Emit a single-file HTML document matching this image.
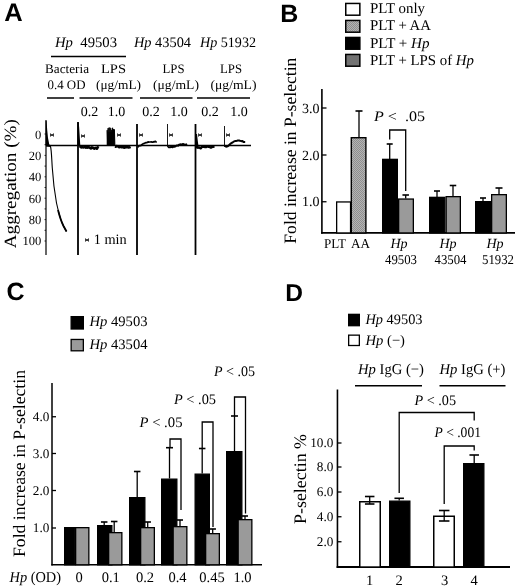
<!DOCTYPE html>
<html lang="en">
<head>
<meta charset="utf-8">
<title>Figure</title>
<style>
html,body{margin:0;padding:0;background:#fff;}
body{width:520px;height:588px;overflow:hidden;}
svg{display:block;will-change:transform;filter:grayscale(1);}
svg text{font-family:"Liberation Serif","Times New Roman",Times,serif;fill:#000;text-rendering:geometricPrecision;}
svg text.pl{font-family:"Liberation Sans",Arial,Helvetica,sans-serif;font-weight:bold;}
</style>
</head>
<body>
<svg width="520" height="588" viewBox="0 0 520 588">
<defs><pattern id="stip" width="2" height="2" patternUnits="userSpaceOnUse"><rect width="2" height="2" fill="#b4b4b4"/><rect width="1" height="1" fill="#8e8e8e"/><rect x="1" y="1" width="1" height="1" fill="#8e8e8e"/></pattern></defs>
<rect x="0" y="0" width="520" height="588" fill="#fff"/>
<text class="pl" x="4.2" y="20.8" font-size="25.5">A</text>
<text x="55" y="47" font-size="14.5" text-anchor="start" textLength="62" lengthAdjust="spacingAndGlyphs"><tspan font-style="italic">Hp</tspan>&#160;&#160;49503</text>
<text x="134" y="47" font-size="14.5" text-anchor="start" textLength="57" lengthAdjust="spacingAndGlyphs"><tspan font-style="italic">Hp</tspan> 43504</text>
<text x="200" y="47" font-size="14.5" text-anchor="start" textLength="56" lengthAdjust="spacingAndGlyphs"><tspan font-style="italic">Hp</tspan> 51932</text>
<line x1="51" y1="56.5" x2="126" y2="56.5" stroke="#000" stroke-width="1.5"/>
<text x="67" y="73" font-size="13" text-anchor="middle" textLength="44" lengthAdjust="spacingAndGlyphs">Bacteria</text>
<text x="66.5" y="89" font-size="13" text-anchor="middle" textLength="38" lengthAdjust="spacingAndGlyphs">0.4 OD</text>
<text x="113.5" y="73" font-size="13" text-anchor="middle" textLength="25" lengthAdjust="spacingAndGlyphs">LPS</text>
<text x="118.5" y="89" font-size="13" text-anchor="middle" textLength="45" lengthAdjust="spacingAndGlyphs">(&#956;g/mL)</text>
<text x="173.5" y="73" font-size="13" text-anchor="middle" textLength="22" lengthAdjust="spacingAndGlyphs">LPS</text>
<text x="176" y="89" font-size="13" text-anchor="middle" textLength="46" lengthAdjust="spacingAndGlyphs">(&#956;g/mL)</text>
<text x="231" y="73" font-size="13" text-anchor="middle" textLength="22" lengthAdjust="spacingAndGlyphs">LPS</text>
<text x="233.5" y="89" font-size="13" text-anchor="middle" textLength="46" lengthAdjust="spacingAndGlyphs">(&#956;g/mL)</text>
<line x1="47" y1="98" x2="74" y2="98" stroke="#000" stroke-width="1.5"/>
<line x1="79.5" y1="98" x2="132.5" y2="98" stroke="#000" stroke-width="1.5"/>
<line x1="140" y1="98" x2="192.5" y2="98" stroke="#000" stroke-width="1.5"/>
<line x1="197" y1="98" x2="250" y2="98" stroke="#000" stroke-width="1.5"/>
<text x="89.5" y="116" font-size="14" text-anchor="middle">0.2</text>
<text x="116.5" y="116" font-size="14" text-anchor="middle">1.0</text>
<text x="151" y="116" font-size="14" text-anchor="middle">0.2</text>
<text x="179" y="116" font-size="14" text-anchor="middle">1.0</text>
<text x="210" y="116" font-size="14" text-anchor="middle">0.2</text>
<text x="239" y="116" font-size="14" text-anchor="middle">1.0</text>
<line x1="46" y1="120" x2="46" y2="255" stroke="#000" stroke-width="1.2"/>
<line x1="44.5" y1="134.0" x2="46" y2="134.0" stroke="#000" stroke-width="0.8"/>
<line x1="44.5" y1="144.7" x2="46" y2="144.7" stroke="#000" stroke-width="0.8"/>
<line x1="44.5" y1="155.4" x2="46" y2="155.4" stroke="#000" stroke-width="0.8"/>
<line x1="44.5" y1="166.1" x2="46" y2="166.1" stroke="#000" stroke-width="0.8"/>
<line x1="44.5" y1="176.8" x2="46" y2="176.8" stroke="#000" stroke-width="0.8"/>
<line x1="44.5" y1="187.5" x2="46" y2="187.5" stroke="#000" stroke-width="0.8"/>
<line x1="44.5" y1="198.2" x2="46" y2="198.2" stroke="#000" stroke-width="0.8"/>
<line x1="44.5" y1="208.89999999999998" x2="46" y2="208.89999999999998" stroke="#000" stroke-width="0.8"/>
<line x1="44.5" y1="219.6" x2="46" y2="219.6" stroke="#000" stroke-width="0.8"/>
<line x1="44.5" y1="230.3" x2="46" y2="230.3" stroke="#000" stroke-width="0.8"/>
<line x1="44.5" y1="241.0" x2="46" y2="241.0" stroke="#000" stroke-width="0.8"/>
<line x1="46" y1="145.5" x2="251" y2="145.5" stroke="#000" stroke-width="1.6"/>
<line x1="78" y1="122" x2="78" y2="255" stroke="#000" stroke-width="1.8"/>
<line x1="137" y1="124" x2="137" y2="255" stroke="#000" stroke-width="1.8"/>
<line x1="195.5" y1="124" x2="195.5" y2="255" stroke="#000" stroke-width="1.8"/>
<line x1="167.5" y1="124" x2="167.5" y2="147" stroke="#000" stroke-width="0.9"/>
<line x1="224.5" y1="126" x2="224.5" y2="147" stroke="#000" stroke-width="0.9"/>
<text x="41.3" y="139" font-size="12.6" text-anchor="end">0</text>
<text x="41.3" y="160" font-size="12.6" text-anchor="end">20</text>
<text x="41.3" y="181" font-size="12.6" text-anchor="end">40</text>
<text x="41.3" y="202.5" font-size="12.6" text-anchor="end">60</text>
<text x="41.3" y="224" font-size="12.6" text-anchor="end">80</text>
<text x="41.3" y="245" font-size="12.6" text-anchor="end">100</text>
<text transform="translate(15.5,183.7) rotate(-90)" font-size="17.2" text-anchor="middle" textLength="129" lengthAdjust="spacingAndGlyphs">Aggregation (%)</text>
<path d="M45.6,121 L46.6,121 L47.2,130 L48,138 L49.2,144 L50,145.5 L45.6,145.5 Z" fill="#000"/>
<path d="M46,146 L50.5,146.5 C51.5,150 51.6,158 52.3,168 C53.2,182 54.5,192 56.5,203 C58.5,212 60.5,220 63,225 C64.2,227.5 65.3,229.5 66.5,231.5" fill="none" stroke="#000" stroke-width="1.1"/>
<path d="M58,210 C59.5,216 61.5,222 63.5,226 L66.5,231.5" fill="none" stroke="#000" stroke-width="1.8"/>
<path d="M77.4,122.5 L78.8,122.5 L79.5,133 L80.3,145.5 L77.4,145.5 Z" fill="#000"/>
<path d="M79.2,146.8 L80.2,146.6 L81.1,147.4 L82.1,146.6 L83.0,147.4 L84.0,147.2 L84.9,146.9 L85.7,147.6 L86.6,147.0 L87.4,147.6 L88.3,147.2 L89.1,147.3 L90.0,147.8 L90.9,148.4 L91.7,147.4 L92.6,147.6 L93.4,148.2 L94.3,148.6 L95.2,148.1 L96.0,147.9 L96.9,148.7 L97.7,147.4 L98.6,148.1" fill="none" stroke="#000" stroke-width="2.6" stroke-linejoin="round"/>
<path d="M107.2,145.5 L107.2,130.2 L107.7,145.5 L108.1,128.2 L108.6,145.5 L109.0,127.7 L109.5,145.5 L109.9,127.6 L110.4,145.5 L110.8,128.3 L111.3,145.5 L111.7,130.1 L112.2,145.5 L112.6,127.8 L113.1,145.5 L113.5,129.2 L114.0,145.5 L114.4,129.4 L114.9,145.5 " fill="none" stroke="#000" stroke-width="0.95"/>
<rect x="107.4" y="132" width="7.4" height="13.5" fill="#000" opacity="0.7"/>
<path d="M115.0,146.4 L115.8,146.7 L116.7,146.1 L117.5,146.2 L118.3,146.5 L119.2,147.2 L120.0,146.9 L120.8,146.8 L121.7,147.2 L122.5,147.0 L123.3,146.9 L124.2,147.6 L125.0,147.5 L125.9,146.8 L126.9,147.2 L127.8,147.1 L128.7,147.5 L129.7,147.3 L130.6,146.9" fill="none" stroke="#000" stroke-width="2.6" stroke-linejoin="round"/>
<path d="M137.5,146.4 L138.3,146.8 L139.2,145.7 L140.0,145.7 L140.8,145.6 L141.7,144.6 L142.5,144.4 L143.3,143.5 L144.2,143.5 L145.0,143.0 L146.0,142.6 L147.0,142.6 L148.0,141.8 L148.8,142.1 L149.6,142.0 L150.4,142.0 L151.2,141.8 L152.0,142.1 L152.8,142.2 L153.6,141.7 L154.4,141.9 L155.2,141.3 L156.0,141.9 L156.8,141.7" fill="none" stroke="#000" stroke-width="1.7" stroke-linejoin="round"/>
<path d="M168.0,146.7 L169.0,147.3 L170.0,147.3 L171.0,147.0 L171.8,147.0 L172.6,147.2 L173.4,146.5 L174.2,146.8 L175.0,146.5 L176.0,146.0 L177.0,145.4 L178.0,145.7 L179.0,144.7 L180.0,144.5 L181.0,144.3 L181.9,144.8 L182.8,144.0 L183.7,144.3 L184.5,144.4 L185.4,144.7 L186.3,144.6 L187.2,144.3" fill="none" stroke="#000" stroke-width="2.0" stroke-linejoin="round"/>
<path d="M195.6,134 L197,134 L197.8,141 L198.8,148.5 L195.6,148.5 Z" fill="#000"/>
<path d="M197.0,148.3 L197.8,147.4 L198.6,147.6 L199.4,147.5 L200.2,148.2 L201.0,148.2 L201.8,147.0 L202.7,146.9 L203.5,146.9 L204.3,146.8 L205.2,147.1 L206.0,147.1 L206.8,146.7 L207.6,146.3 L208.4,146.9 L209.2,146.9 L210.0,147.2 L210.9,147.6 L211.8,147.1 L212.7,146.7 L213.6,146.7 L214.5,146.4" fill="none" stroke="#000" stroke-width="2.4" stroke-linejoin="round"/>
<path d="M225.0,147.0 L225.8,146.1 L226.7,146.7 L227.5,146.3 L228.3,145.8 L229.2,145.1 L230.0,144.1 L230.8,143.6 L231.7,142.7 L232.5,142.7 L233.3,141.8 L234.2,141.4 L235.0,141.1 L236.0,140.9 L237.0,140.8 L238.0,140.4 L239.0,140.5 L240.0,140.8 L241.0,140.9 L241.8,141.3 L242.7,141.1 L243.5,142.1 L244.4,142.0 L245.2,142.0" fill="none" stroke="#000" stroke-width="2.0" stroke-linejoin="round"/>
<path d="M50.5,133.6 L53.5,136.4 L53.5,133.6 L50.5,136.4 Z" fill="#000" stroke="#000" stroke-width="0.5"/>
<path d="M81.5,134.6 L84.5,137.4 L84.5,134.6 L81.5,137.4 Z" fill="#000" stroke="#000" stroke-width="0.5"/>
<path d="M117.5,133.6 L120.5,136.4 L120.5,133.6 L117.5,136.4 Z" fill="#000" stroke="#000" stroke-width="0.5"/>
<path d="M139.5,133.6 L142.5,136.4 L142.5,133.6 L139.5,136.4 Z" fill="#000" stroke="#000" stroke-width="0.5"/>
<path d="M169.5,133.6 L172.5,136.4 L172.5,133.6 L169.5,136.4 Z" fill="#000" stroke="#000" stroke-width="0.5"/>
<path d="M198.5,133.6 L201.5,136.4 L201.5,133.6 L198.5,136.4 Z" fill="#000" stroke="#000" stroke-width="0.5"/>
<path d="M226.5,133.6 L229.5,136.4 L229.5,133.6 L226.5,136.4 Z" fill="#000" stroke="#000" stroke-width="0.5"/>
<path d="M85.5,238.6 L88.5,241.4 L88.5,238.6 L85.5,241.4 Z" fill="#000" stroke="#000" stroke-width="0.5"/>
<text x="93.7" y="244.2" font-size="14.5" text-anchor="start" textLength="33" lengthAdjust="spacingAndGlyphs">1 min</text>
<text class="pl" x="280.2" y="21.6" font-size="25">B</text>
<rect x="345.75" y="3.45" width="14.100000000000023" height="11.75" fill="#fff" stroke="#000" stroke-width="1.5"/>
<rect x="345.75" y="20.45" width="14.100000000000023" height="11.750000000000004" fill="url(#stip)" stroke="#000" stroke-width="1.5"/>
<rect x="345.75" y="37.45" width="14.100000000000023" height="11.75" fill="#000" stroke="#000" stroke-width="1.5"/>
<rect x="345.75" y="54.45" width="14.100000000000023" height="11.75" fill="#727272" stroke="#000" stroke-width="1.5"/>
<text x="370" y="12.5" font-size="14.8" text-anchor="start" textLength="55" lengthAdjust="spacingAndGlyphs">PLT only</text>
<text x="370" y="30" font-size="14.8" text-anchor="start" textLength="61" lengthAdjust="spacingAndGlyphs">PLT + AA</text>
<text x="370" y="47.5" font-size="14.8" textLength="59.5" lengthAdjust="spacingAndGlyphs">PLT + <tspan font-style="italic">Hp</tspan></text>
<text x="370" y="65" font-size="14.8" textLength="104" lengthAdjust="spacingAndGlyphs">PLT + LPS of <tspan font-style="italic">Hp</tspan></text>
<line x1="321.9" y1="89" x2="321.9" y2="233.8" stroke="#000" stroke-width="1.6"/>
<line x1="321.1" y1="232.95" x2="515" y2="232.95" stroke="#000" stroke-width="1.8"/>
<line x1="322" y1="108" x2="326.5" y2="108" stroke="#000" stroke-width="1.3"/>
<text x="319.5" y="112.6" font-size="14" text-anchor="end">3.0</text>
<line x1="322" y1="155" x2="326.5" y2="155" stroke="#000" stroke-width="1.3"/>
<text x="319.5" y="159.6" font-size="14" text-anchor="end">2.0</text>
<line x1="322" y1="201.75" x2="326.5" y2="201.75" stroke="#000" stroke-width="1.3"/>
<text x="319.5" y="206.35" font-size="14" text-anchor="end">1.0</text>
<text transform="translate(296,150.7) rotate(-90)" font-size="17.4" text-anchor="middle" textLength="186" lengthAdjust="spacingAndGlyphs">Fold increase in P-selectin</text>
<rect x="336.65" y="201.95000000000002" width="13.899999999999988" height="30.99999999999998" fill="#fff" stroke="#000" stroke-width="1.3"/>
<rect x="351.3" y="137.7" width="14.6" height="95.24999999999999" fill="url(#stip)" stroke="#000" stroke-width="1.4"/>
<line x1="359" y1="111" x2="359" y2="137" stroke="#000" stroke-width="1.3"/>
<line x1="355.5" y1="111" x2="362.5" y2="111" stroke="#000" stroke-width="1.6"/>
<rect x="382.65" y="159.35" width="14.7" height="73.6" fill="#000" stroke="#000" stroke-width="1.3"/>
<line x1="389.7" y1="144" x2="389.7" y2="159" stroke="#000" stroke-width="1.3"/>
<line x1="386.7" y1="144" x2="392.7" y2="144" stroke="#000" stroke-width="1.6"/>
<rect x="398.65" y="199.05" width="14.7" height="33.899999999999984" fill="#9a9a9a" stroke="#000" stroke-width="1.3"/>
<line x1="405.7" y1="195" x2="405.7" y2="198.4" stroke="#000" stroke-width="1.3"/>
<line x1="402.45" y1="195" x2="408.95" y2="195" stroke="#000" stroke-width="1.6"/>
<polyline points="389.7,139.5 389.7,130 405.7,130 405.7,191" fill="none" stroke="#000" stroke-width="1.3"/>
<text x="374" y="120.5" font-size="14.5" xml:space="preserve" textLength="51" lengthAdjust="spacingAndGlyphs"><tspan font-style="italic">P</tspan> &lt;  .05</text>
<rect x="429.65" y="197.35" width="15.2" height="35.6" fill="#000" stroke="#000" stroke-width="1.3"/>
<line x1="437" y1="191" x2="437" y2="197" stroke="#000" stroke-width="1.3"/>
<line x1="434.0" y1="191" x2="440.0" y2="191" stroke="#000" stroke-width="1.6"/>
<rect x="446.15" y="196.65" width="14.2" height="36.29999999999999" fill="#9a9a9a" stroke="#000" stroke-width="1.3"/>
<line x1="453" y1="185.5" x2="453" y2="196" stroke="#000" stroke-width="1.3"/>
<line x1="449.75" y1="185.5" x2="456.25" y2="185.5" stroke="#000" stroke-width="1.6"/>
<rect x="475.65" y="201.65" width="14.7" height="31.29999999999999" fill="#000" stroke="#000" stroke-width="1.3"/>
<line x1="483" y1="198" x2="483" y2="201" stroke="#000" stroke-width="1.3"/>
<line x1="480.0" y1="198" x2="486.0" y2="198" stroke="#000" stroke-width="1.6"/>
<rect x="491.65" y="194.65" width="14.7" height="38.29999999999999" fill="#9a9a9a" stroke="#000" stroke-width="1.3"/>
<line x1="499" y1="188" x2="499" y2="194" stroke="#000" stroke-width="1.3"/>
<line x1="495.5" y1="188" x2="502.5" y2="188" stroke="#000" stroke-width="1.6"/>
<text x="335" y="247.5" font-size="13.5" text-anchor="middle" textLength="22" lengthAdjust="spacingAndGlyphs">PLT</text>
<text x="360.5" y="247.5" font-size="13.5" text-anchor="middle" textLength="19" lengthAdjust="spacingAndGlyphs">AA</text>
<text x="399" y="247.5" font-size="14" text-anchor="middle" font-style="italic">Hp</text>
<text x="401" y="264" font-size="13.5" text-anchor="middle" textLength="32" lengthAdjust="spacingAndGlyphs">49503</text>
<text x="448" y="247.5" font-size="14" text-anchor="middle" font-style="italic">Hp</text>
<text x="450.5" y="264" font-size="13.5" text-anchor="middle" textLength="32" lengthAdjust="spacingAndGlyphs">43504</text>
<text x="495" y="247.5" font-size="14" text-anchor="middle" font-style="italic">Hp</text>
<text x="498" y="264" font-size="13.5" text-anchor="middle" textLength="32" lengthAdjust="spacingAndGlyphs">51932</text>
<text class="pl" x="6.5" y="300" font-size="25">C</text>
<rect x="71.15" y="316.65" width="12.2" height="12.35" fill="#000" stroke="#000" stroke-width="1.3"/>
<rect x="71.15" y="339.45" width="12.2" height="11.35" fill="#9a9a9a" stroke="#000" stroke-width="1.3"/>
<text x="89.5" y="326" font-size="14.5" text-anchor="start" textLength="58" lengthAdjust="spacingAndGlyphs"><tspan font-style="italic">Hp</tspan> 49503</text>
<text x="89.5" y="349" font-size="14.5" text-anchor="start" textLength="58" lengthAdjust="spacingAndGlyphs"><tspan font-style="italic">Hp</tspan> 43504</text>
<line x1="52" y1="383" x2="52" y2="565.5" stroke="#000" stroke-width="1.5"/>
<line x1="51.3" y1="564.8" x2="262" y2="564.8" stroke="#000" stroke-width="1.6"/>
<line x1="52" y1="416.75" x2="56" y2="416.75" stroke="#000" stroke-width="1.3"/>
<text x="49.3" y="421.15" font-size="13.2" text-anchor="end">4.0</text>
<line x1="52" y1="453.5" x2="56" y2="453.5" stroke="#000" stroke-width="1.3"/>
<text x="49.3" y="457.9" font-size="13.2" text-anchor="end">3.0</text>
<line x1="52" y1="490.5" x2="56" y2="490.5" stroke="#000" stroke-width="1.3"/>
<text x="49.3" y="494.9" font-size="13.2" text-anchor="end">2.0</text>
<line x1="52" y1="528" x2="56" y2="528" stroke="#000" stroke-width="1.3"/>
<text x="49.3" y="532.4" font-size="13.2" text-anchor="end">1.0</text>
<text transform="translate(24.7,463.5) rotate(-90)" font-size="17.4" text-anchor="middle" textLength="187" lengthAdjust="spacingAndGlyphs">Fold increase in P-selectin</text>
<rect x="64.65" y="527.65" width="10.2" height="37.149999999999956" fill="#000" stroke="#000" stroke-width="1.3"/>
<rect x="75.65" y="527.65" width="13.2" height="37.149999999999956" fill="#9a9a9a" stroke="#000" stroke-width="1.3"/>
<rect x="97.65" y="525.65" width="14.2" height="39.149999999999956" fill="#000" stroke="#000" stroke-width="1.3"/>
<line x1="104.2" y1="522" x2="104.2" y2="525" stroke="#000" stroke-width="1.3"/>
<line x1="100.95" y1="522" x2="107.45" y2="522" stroke="#000" stroke-width="1.6"/>
<rect x="108.65" y="532.65" width="13.2" height="32.149999999999956" fill="#9a9a9a" stroke="#000" stroke-width="1.3"/>
<line x1="114.2" y1="521.5" x2="114.2" y2="532" stroke="#000" stroke-width="1.3"/>
<line x1="110.95" y1="521.5" x2="117.45" y2="521.5" stroke="#000" stroke-width="1.6"/>
<rect x="129.65" y="497.65" width="15.2" height="67.14999999999995" fill="#000" stroke="#000" stroke-width="1.3"/>
<line x1="137.2" y1="471.5" x2="137.2" y2="497" stroke="#000" stroke-width="1.3"/>
<line x1="133.95" y1="471.5" x2="140.45" y2="471.5" stroke="#000" stroke-width="1.6"/>
<rect x="140.65" y="527.65" width="13.7" height="37.149999999999956" fill="#9a9a9a" stroke="#000" stroke-width="1.3"/>
<line x1="147.7" y1="522" x2="147.7" y2="527" stroke="#000" stroke-width="1.3"/>
<line x1="144.45" y1="522" x2="150.95" y2="522" stroke="#000" stroke-width="1.6"/>
<rect x="161.65" y="479.15" width="15.2" height="85.64999999999995" fill="#000" stroke="#000" stroke-width="1.3"/>
<line x1="169.5" y1="447.7" x2="169.5" y2="478.5" stroke="#000" stroke-width="1.3"/>
<line x1="166.0" y1="447.7" x2="173.0" y2="447.7" stroke="#000" stroke-width="1.6"/>
<rect x="173.15" y="526.65" width="13.7" height="38.149999999999956" fill="#9a9a9a" stroke="#000" stroke-width="1.3"/>
<line x1="180" y1="520" x2="180" y2="526" stroke="#000" stroke-width="1.3"/>
<line x1="177.0" y1="520" x2="183.0" y2="520" stroke="#000" stroke-width="1.6"/>
<rect x="195.15" y="474.15" width="14.2" height="90.64999999999995" fill="#000" stroke="#000" stroke-width="1.3"/>
<line x1="202.2" y1="448.5" x2="202.2" y2="473.5" stroke="#000" stroke-width="1.3"/>
<line x1="198.95" y1="448.5" x2="205.45" y2="448.5" stroke="#000" stroke-width="1.6"/>
<rect x="205.65" y="533.65" width="13.7" height="31.149999999999956" fill="#9a9a9a" stroke="#000" stroke-width="1.3"/>
<line x1="212.7" y1="529" x2="212.7" y2="533" stroke="#000" stroke-width="1.3"/>
<line x1="209.45" y1="529" x2="215.95" y2="529" stroke="#000" stroke-width="1.6"/>
<rect x="226.65" y="451.65" width="15.2" height="113.14999999999995" fill="#000" stroke="#000" stroke-width="1.3"/>
<line x1="234.5" y1="416" x2="234.5" y2="451" stroke="#000" stroke-width="1.3"/>
<line x1="231.0" y1="416" x2="238.0" y2="416" stroke="#000" stroke-width="1.6"/>
<rect x="238.15" y="519.65" width="13.7" height="45.149999999999956" fill="#9a9a9a" stroke="#000" stroke-width="1.3"/>
<line x1="245" y1="516" x2="245" y2="519" stroke="#000" stroke-width="1.3"/>
<line x1="242.0" y1="516" x2="248.0" y2="516" stroke="#000" stroke-width="1.6"/>
<polyline points="170,447 170,439 181,439 181,510" fill="none" stroke="#000" stroke-width="1.3"/>
<polyline points="202.2,448 202.2,422 213,422 213,527" fill="none" stroke="#000" stroke-width="1.3"/>
<polyline points="234.5,416 234.5,397 245.5,397 245.5,513.5" fill="none" stroke="#000" stroke-width="1.3"/>
<text x="139.5" y="427" font-size="14.5" textLength="43" lengthAdjust="spacingAndGlyphs"><tspan font-style="italic">P</tspan> &lt; .05</text>
<text x="174" y="404" font-size="14.5" textLength="42" lengthAdjust="spacingAndGlyphs"><tspan font-style="italic">P</tspan> &lt; .05</text>
<text x="214" y="376" font-size="14.5" textLength="41" lengthAdjust="spacingAndGlyphs"><tspan font-style="italic">P</tspan> &lt; .05</text>
<text x="9.5" y="581.5" font-size="15" textLength="51.5" lengthAdjust="spacingAndGlyphs"><tspan font-style="italic">Hp</tspan> (OD)</text>
<text x="79" y="581.5" font-size="14.5" text-anchor="middle">0</text>
<text x="110.7" y="581.5" font-size="14.5" text-anchor="middle">0.1</text>
<text x="145" y="581.5" font-size="14.5" text-anchor="middle">0.2</text>
<text x="177.5" y="581.5" font-size="14.5" text-anchor="middle">0.4</text>
<text x="212" y="581.5" font-size="14.5" text-anchor="middle">0.45</text>
<text x="242.5" y="581.5" font-size="14.5" text-anchor="middle">1.0</text>
<text class="pl" x="285.2" y="301.2" font-size="24.5">D</text>
<rect x="348.65" y="314.34999999999997" width="10.7" height="11.35" fill="#000" stroke="#000" stroke-width="1.3"/>
<rect x="348.65" y="335.15" width="10.7" height="10.35" fill="#fff" stroke="#000" stroke-width="1.3"/>
<text x="365.5" y="323.7" font-size="14.5" text-anchor="start" textLength="57" lengthAdjust="spacingAndGlyphs"><tspan font-style="italic">Hp</tspan> 49503</text>
<text x="365.5" y="344.5" font-size="14.5" text-anchor="start" textLength="39.5" lengthAdjust="spacingAndGlyphs"><tspan font-style="italic">Hp</tspan> (&#8722;)</text>
<text x="358" y="373.7" font-size="15" text-anchor="start" textLength="66" lengthAdjust="spacingAndGlyphs"><tspan font-style="italic">Hp</tspan> IgG (&#8722;)</text>
<text x="439.5" y="373.7" font-size="15" text-anchor="start" textLength="66" lengthAdjust="spacingAndGlyphs"><tspan font-style="italic">Hp</tspan> IgG (+)</text>
<line x1="355" y1="385.7" x2="422" y2="385.7" stroke="#000" stroke-width="1.5"/>
<line x1="439.5" y1="385.7" x2="505.5" y2="385.7" stroke="#000" stroke-width="1.5"/>
<line x1="337.45" y1="389.5" x2="337.45" y2="568" stroke="#000" stroke-width="1.6"/>
<line x1="336.65" y1="567.05" x2="510" y2="567.05" stroke="#000" stroke-width="1.9"/>
<line x1="337.5" y1="443" x2="341.5" y2="443" stroke="#000" stroke-width="1.3"/>
<text x="333.3" y="447.4" font-size="13.2" text-anchor="end">10.0</text>
<line x1="337.5" y1="467" x2="341.5" y2="467" stroke="#000" stroke-width="1.3"/>
<text x="333.3" y="471.4" font-size="13.2" text-anchor="end">8.0</text>
<line x1="337.5" y1="492" x2="341.5" y2="492" stroke="#000" stroke-width="1.3"/>
<text x="333.3" y="496.4" font-size="13.2" text-anchor="end">6.0</text>
<line x1="337.5" y1="516.75" x2="341.5" y2="516.75" stroke="#000" stroke-width="1.3"/>
<text x="333.3" y="521.15" font-size="13.2" text-anchor="end">4.0</text>
<line x1="337.5" y1="541.75" x2="341.5" y2="541.75" stroke="#000" stroke-width="1.3"/>
<text x="333.3" y="546.15" font-size="13.2" text-anchor="end">2.0</text>
<text transform="translate(305.5,479) rotate(-90)" font-size="17.6" text-anchor="middle" textLength="90" lengthAdjust="spacingAndGlyphs">P-selectin %</text>
<rect x="359.75" y="501.75" width="20.5" height="65.29999999999995" fill="#fff" stroke="#000" stroke-width="1.5"/>
<line x1="369.7" y1="496.5" x2="369.7" y2="504" stroke="#000" stroke-width="1.3"/>
<line x1="364.95" y1="496.5" x2="374.45" y2="496.5" stroke="#000" stroke-width="1.6"/>
<line x1="364.95" y1="504" x2="374.45" y2="504" stroke="#000" stroke-width="1.6"/>
<rect x="389.65" y="501.15" width="20.2" height="65.89999999999995" fill="#000" stroke="#000" stroke-width="1.3"/>
<line x1="399.2" y1="498.3" x2="399.2" y2="500.5" stroke="#000" stroke-width="1.3"/>
<line x1="394.45" y1="498.3" x2="403.95" y2="498.3" stroke="#000" stroke-width="1.6"/>
<rect x="433.75" y="516.25" width="20.5" height="50.799999999999955" fill="#fff" stroke="#000" stroke-width="1.5"/>
<line x1="444.2" y1="510.5" x2="444.2" y2="521" stroke="#000" stroke-width="1.3"/>
<line x1="438.95" y1="510.5" x2="449.45" y2="510.5" stroke="#000" stroke-width="1.6"/>
<line x1="438.95" y1="521" x2="449.45" y2="521" stroke="#000" stroke-width="1.6"/>
<rect x="463.65" y="463.65" width="20.2" height="103.39999999999995" fill="#000" stroke="#000" stroke-width="1.3"/>
<line x1="474.2" y1="455" x2="474.2" y2="463" stroke="#000" stroke-width="1.3"/>
<line x1="469.45" y1="455" x2="478.95" y2="455" stroke="#000" stroke-width="1.6"/>
<polyline points="399.2,493 399.2,412.5 474.2,412.5 474.2,420.5" fill="none" stroke="#000" stroke-width="1.3"/>
<polyline points="444.2,504 444.2,446 474.2,446 474.2,450.5" fill="none" stroke="#000" stroke-width="1.3"/>
<text x="414.5" y="404.5" font-size="14.5" textLength="41.5" lengthAdjust="spacingAndGlyphs"><tspan font-style="italic">P</tspan> &lt; .05</text>
<text x="434.5" y="437" font-size="14.5" textLength="46.5" lengthAdjust="spacingAndGlyphs"><tspan font-style="italic">P</tspan> &lt; .001</text>
<text x="369.5" y="584.7" font-size="14.5" text-anchor="middle">1</text>
<text x="399" y="584.7" font-size="14.5" text-anchor="middle">2</text>
<text x="444.5" y="584.7" font-size="14.5" text-anchor="middle">3</text>
<text x="474" y="584.7" font-size="14.5" text-anchor="middle">4</text>
</svg>
</body>
</html>
